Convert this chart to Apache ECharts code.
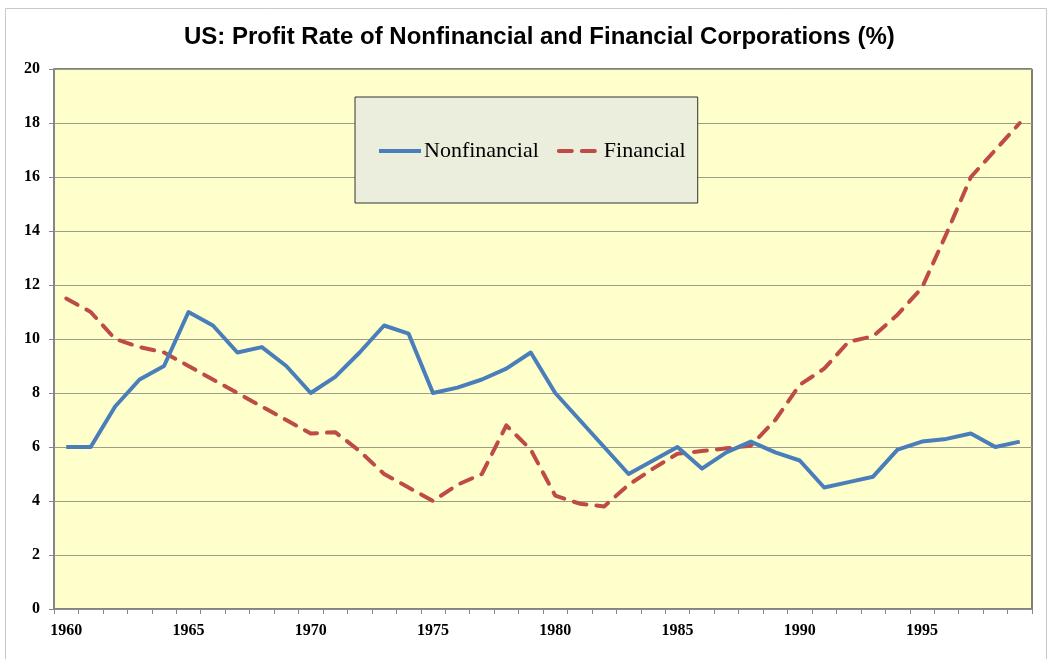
<!DOCTYPE html>
<html>
<head>
<meta charset="utf-8">
<script src="https://cdn.jsdelivr.net/npm/echarts@6/dist/echarts.min.js"></script>
<style>
  html, body { margin: 0; padding: 0; background: #ffffff; }
  #main { width: 1051px; height: 659px; }
</style>
</head>
<body>
<div id="main"></div>
<script>
// years 1960 - 1999
const years = []
for (let y = 1960; y <= 1999; y++) years.push(String(y))

const nonfinancial = [
  6.0, 6.0, 7.5, 8.5, 9.0, 11.0, 10.5, 9.5, 9.7, 9.0,
  8.0, 8.6, 9.5, 10.5, 10.2, 8.0, 8.2, 8.5, 8.9, 9.5,
  8.0, 7.0, 6.0, 5.0, 5.5, 6.0, 5.2, 5.8, 6.2, 5.8,
  5.5, 4.5, 4.7, 4.9, 5.9, 6.2, 6.3, 6.5, 6.0, 6.2
]
const financial = [
  11.5, 11.0, 10.0, 9.7, 9.5, 9.0, 8.5, 8.0, 7.5, 7.0,
  6.5, 6.55, 5.85, 5.0, 4.5, 4.0, 4.6, 5.0, 6.8, 5.9,
  4.2, 3.9, 3.8, 4.6, 5.2, 5.75, 5.85, 5.95, 6.05, 7.0,
  8.3, 8.9, 9.9, 10.1, 10.9, 11.9, 13.9, 16.0, 17.0, 18.0
]
const yTicks = [0, 2, 4, 6, 8, 10, 12, 14, 16, 18, 20]

const chart = echarts.init(document.getElementById('main'))
chart.setOption({
  animation: false,
  backgroundColor: '#ffffff',
  title: {
    text: 'US: Profit Rate of Nonfinancial and Financial Corporations (%)',
    left: 179,
    top: 20,
    textStyle: {
      fontFamily: 'Liberation Sans',
      fontWeight: 'bold',
      fontSize: 24,
      color: '#000000'
    }
  },
  graphic: [
    {
      type: 'rect',
      shape: { x: 5.5, y: 8.5, width: 1041, height: 660 },
      style: { fill: 'none', stroke: '#c8c8c8', lineWidth: 1 },
      silent: true
    }
  ],
  legend: {
    left: 355,
    top: 97,
    padding: [43, 12, 41, 22],
    backgroundColor: '#ebeedd',
    borderColor: '#333333',
    borderWidth: 1,
    itemWidth: 42,
    itemHeight: 14,
    itemGap: 18,
    itemStyle: { opacity: 0 },
    lineStyle: { width: 4 },
    textStyle: {
      fontFamily: 'Liberation Serif',
      fontSize: 22,
      color: '#000000',
      padding: [0, 0, 0, -2]
    },
    data: ['Nonfinancial', 'Financial']
  },
  grid: {
    left: 54,
    right: 19,
    top: 69,
    bottom: 50,
    show: true,
    backgroundColor: '#ffffcc',
    borderColor: '#000000',
    borderWidth: 1
  },
  xAxis: {
    type: 'category',
    data: years,
    boundaryGap: true,
    axisLine: { lineStyle: { color: '#868686', width: 1.5 } },
    axisTick: {
      show: true,
      interval: 0,
      length: 5,
      lineStyle: { color: '#868686' }
    },
    axisLabel: {
      interval: 4,
      margin: 14,
      fontFamily: 'Liberation Serif',
      fontWeight: 'bold',
      fontSize: 16,
      color: '#000000'
    },
    splitLine: { show: false }
  },
  yAxis: {
    type: 'value',
    min: 0,
    max: 20,
    interval: 2,
    axisLine: { show: true, lineStyle: { color: '#868686', width: 2 } },
    axisTick: { show: true, length: 5, lineStyle: { color: '#868686' } },
    axisLabel: {
      margin: 14,
      fontFamily: 'Liberation Serif',
      fontWeight: 'bold',
      fontSize: 16,
      color: '#000000',
      formatter: function (v) {
        return yTicks.indexOf(v) >= 0 ? String(v) : ''
      }
    },
    splitLine: { show: true, lineStyle: { color: '#9d9d8c', width: 1 } }
  },
  series: [
    {
      name: 'Nonfinancial',
      type: 'line',
      data: nonfinancial,
      symbol: 'none',
      color: '#4a7ebb',
      lineStyle: { color: '#4a7ebb', width: 4, join: 'round' },
      z: 3
    },
    {
      name: 'Financial',
      type: 'line',
      data: financial,
      symbol: 'none',
      color: '#be4b48',
      lineStyle: {
        color: '#be4b48',
        width: 4,
        type: [13, 10],
        cap: 'round',
        join: 'round'
      },
      z: 2
    }
  ]
})
</script>
</body>
</html>
